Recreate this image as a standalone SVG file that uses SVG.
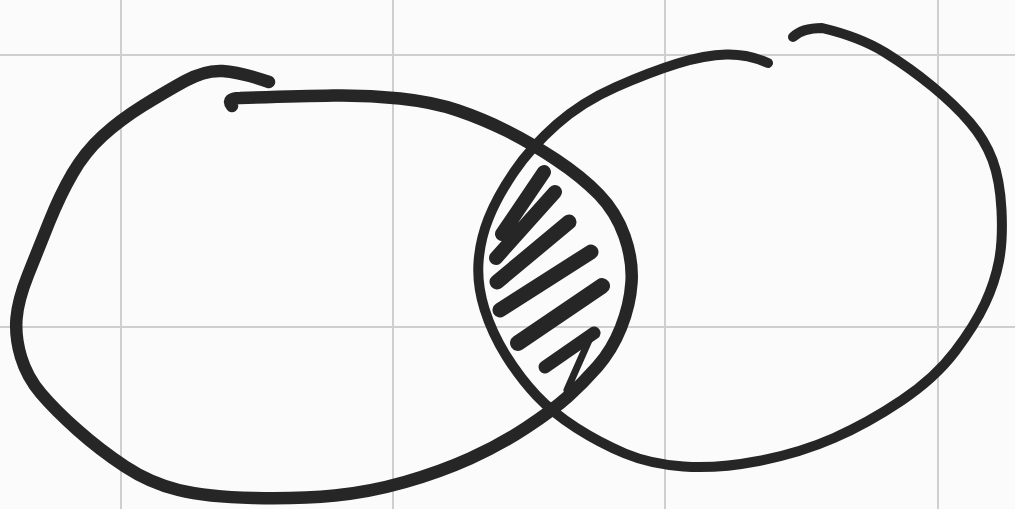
<svg xmlns="http://www.w3.org/2000/svg" width="1015" height="509" viewBox="0 0 1015 509">
  <style>
    .grid { stroke: #cfcfcf; stroke-width: 2; fill: none; }
    .ink { stroke: #262626; fill: none; stroke-linecap: round; stroke-linejoin: round; }
  </style>
  <rect x="0" y="0" width="1015" height="509" fill="#fbfbfb"/>
  <g id="grid">
    <line class="grid" x1="121" y1="0" x2="121" y2="509"/>
    <line class="grid" x1="393" y1="0" x2="393" y2="509"/>
    <line class="grid" x1="665" y1="0" x2="665" y2="509"/>
    <line class="grid" x1="938" y1="0" x2="938" y2="509"/>
    <line class="grid" x1="0" y1="55" x2="1015" y2="55"/>
    <line class="grid" x1="0" y1="327" x2="1015" y2="327"/>
  </g>
  <g id="circle-a">
    <path class="ink" stroke-width="12.5" d="M 232,106 Q 226,98 240,98 Q 300,96 333.5,95.5 Q 367,95 400,98.5 Q 433,102 458,110.5 Q 483,119 507,131 Q 531,143 556.5,160 Q 582,177 599,194.5 Q 616,212 624.5,236 Q 633,260 631.5,282.5 Q 630,305 621,327.5 Q 612,350 597.5,366.5 Q 583,383 568,396.5 Q 553,410 526.5,427.5 Q 500,445 470,458.5 Q 440,472 405,482 Q 370,492 335,495.5 Q 300,499 253.5,498 Q 207,497 178.5,490 Q 150,483 125,466.5 Q 100,450 77.5,430 Q 55,410 41,393.5 Q 27,377 21,357 Q 15,337 16.5,318.5 Q 18,300 28,275 Q 38,250 49,222.5 Q 60,195 72.5,173.5 Q 85,152 102.5,136 Q 120,120 142.5,106 Q 165,92 185,81 Q 205,70 222.5,71 Q 240,72 269,82"/>
  </g>
  <g id="circle-b">
    <path class="ink" stroke-width="10" d="M 793,37 Q 802,28 822,28 Q 860,37 885,52.5 Q 910,68 932.5,86.5 Q 955,105 970,122.5 Q 985,140 992.5,160 Q 1000,180 1001.5,210 Q 1003,240 999,261 Q 995,282 985,303.5 Q 975,325 955,351.5 Q 935,378 901.5,400.5 Q 868,423 834,438 Q 800,453 758.5,461 Q 717,469 683.5,466.5 Q 650,464 625,453.5 Q 600,443 576.5,428 Q 553,413 536.5,395.5 Q 520,378 506,355.5 Q 492,333 484.5,309 Q 477,285 478.5,262.5 Q 480,240 488.5,218.5 Q 497,197 514,172 Q 531,147 556.5,124.5 Q 582,102 616,87 Q 650,72 677.5,63.5 Q 705,55 726.5,54.5 Q 748,54 768,63"/>
  </g>
  <g id="overlap">
    <path class="ink" stroke-width="14" d="M 544,172 L 502,234 M 555,192 L 496,258"/>
    <path class="ink" stroke-width="15" d="M 569,222 L 497,282 M 591,252 L 500,310"/>
    <path class="ink" stroke-width="16" d="M 602,286 L 518,343"/>
    <path class="ink" stroke-width="13" d="M 594,333 L 545,367"/>
    <path class="ink" stroke-width="7" d="M 590,338 L 567,390"/>
  </g>
</svg>
